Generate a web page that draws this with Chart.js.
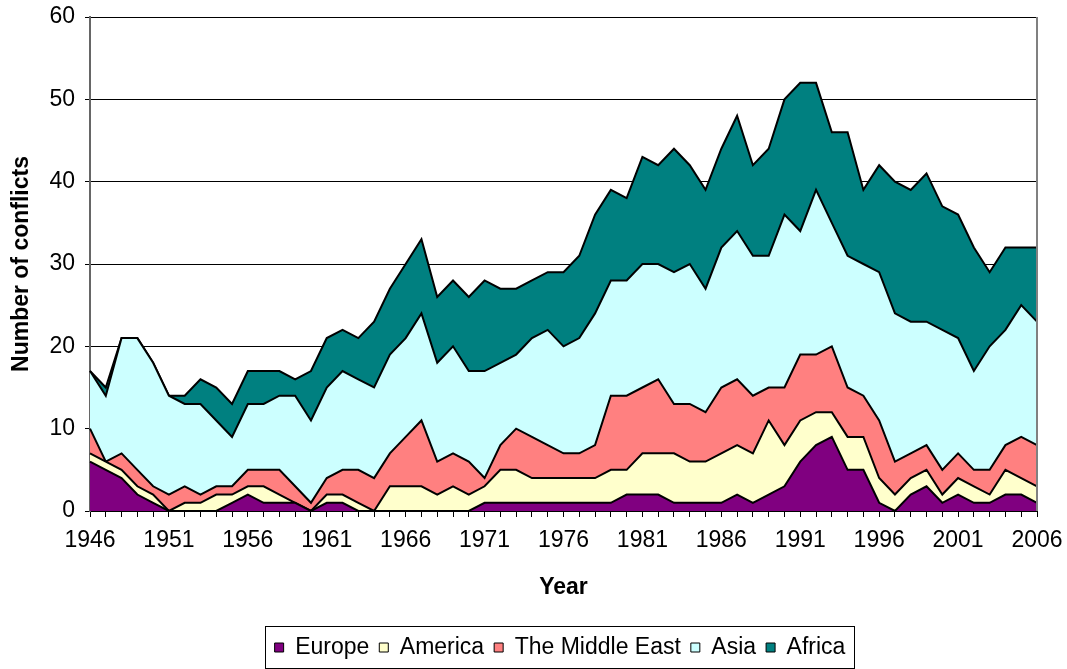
<!DOCTYPE html>
<html lang="en">
<head>
<meta charset="UTF-8">
<title>Number of conflicts by region, 1946-2006</title>
<style>
  html, body { margin: 0; padding: 0; background: #fff; }
  #wrap { width: 1067px; height: 669px; }
</style>
<script src="https://cdn.jsdelivr.net/npm/chart.js"></script>
</head>
<body>
<div id="wrap"><canvas id="conflictChart" width="1067" height="669"></canvas></div>
<script>
// categories
const years = [
  '1946','1947','1948','1949','1950','1951','1952','1953','1954','1955',
  '1956','1957','1958','1959','1960','1961','1962','1963','1964','1965',
  '1966','1967','1968','1969','1970','1971','1972','1973','1974','1975',
  '1976','1977','1978','1979','1980','1981','1982','1983','1984','1985',
  '1986','1987','1988','1989','1990','1991','1992','1993','1994','1995',
  '1996','1997','1998','1999','2000','2001','2002','2003','2004','2005',
  '2006'
];

// number of conflicts per region
const europe = [
  6, 5, 4, 2, 1, 0, 0, 0, 0, 1,
  2, 1, 1, 1, 0, 1, 1, 0, 0, 0,
  0, 0, 0, 0, 0, 1, 1, 1, 1, 1,
  1, 1, 1, 1, 2, 2, 2, 1, 1, 1,
  1, 2, 1, 2, 3, 6, 8, 9, 5, 5,
  1, 0, 2, 3, 1, 2, 1, 1, 2, 2,
  1
];
const america = [
  1, 1, 1, 1, 1, 0, 1, 1, 2, 1,
  1, 2, 1, 0, 0, 1, 1, 1, 0, 3,
  3, 3, 2, 3, 2, 2, 4, 4, 3, 3,
  3, 3, 3, 4, 3, 5, 5, 6, 5, 5,
  6, 6, 6, 9, 5, 5, 4, 3, 4, 4,
  3, 2, 2, 2, 1, 2, 2, 1, 3, 2,
  2
];
const middleEast = [
  3, 0, 2, 2, 1, 2, 2, 1, 1, 1,
  2, 2, 3, 2, 1, 2, 3, 4, 4, 4,
  6, 8, 4, 4, 4, 1, 3, 5, 5, 4,
  3, 3, 4, 9, 9, 8, 9, 6, 7, 6,
  8, 8, 7, 4, 7, 8, 7, 8, 6, 5,
  7, 4, 3, 3, 3, 3, 2, 3, 3, 5,
  5
];
const asia = [
  7, 8, 14, 16, 15, 12, 10, 11, 8, 6,
  8, 8, 9, 11, 10, 11, 12, 11, 11, 12,
  12, 13, 12, 13, 11, 13, 10, 9, 12, 14,
  13, 14, 16, 14, 14, 15, 14, 16, 17, 15,
  17, 18, 17, 16, 21, 15, 20, 15, 16, 16,
  18, 18, 16, 15, 17, 14, 12, 15, 14, 16,
  15
];
const africa = [
  0, 1, 0, 0, 0, 0, 1, 3, 4, 4,
  4, 4, 3, 2, 6, 6, 5, 5, 8, 8,
  9, 9, 8, 8, 9, 11, 9, 8, 7, 7,
  9, 10, 12, 11, 10, 13, 12, 15, 12, 12,
  12, 14, 11, 13, 14, 18, 13, 11, 15, 9,
  13, 16, 16, 18, 15, 15, 15, 9, 10, 7,
  9
];

const yTicks = [0, 10, 20, 30, 40, 50, 60];

const FONT = '"Liberation Sans", Arial, sans-serif';

function area(label, data, color, fill) {
  return {
    label: label,
    data: data,
    backgroundColor: color,
    borderColor: '#000',
    borderWidth: 2,
    pointRadius: 0,
    tension: 0,
    fill: fill
  };
}

// moves the legend a bit to the right and draws a frame round it
const legendFrame = {
  id: 'legendFrame',
  afterLayout(chart) {
    const lg = chart.legend;
    const dx = 560 - (lg.left + lg.right) / 2;
    lg.left += dx;
    lg.right += dx;
  },
  afterDraw(chart) {
    const lg = chart.legend;
    const boxes = lg.legendHitBoxes;
    if (!boxes || !boxes.length) return;
    const last = boxes[boxes.length - 1];
    const x1 = Math.round(boxes[0].left - 10) + 0.5;
    const x2 = Math.round(last.left + last.width + 9) + 0.5;
    const ctx = chart.ctx;
    ctx.save();
    ctx.strokeStyle = '#000';
    ctx.lineWidth = 1;
    ctx.strokeRect(x1, Math.round(lg.top) + 0.5, x2 - x1, Math.round(lg.bottom - lg.top) - 1);
    ctx.restore();
  }
};

// right edge of the plot area
const plotEdge = {
  id: 'plotEdge',
  afterDatasetsDraw(chart) {
    const a = chart.chartArea;
    const ctx = chart.ctx;
    ctx.save();
    ctx.strokeStyle = '#808080';
    ctx.lineWidth = 2;
    ctx.beginPath();
    ctx.moveTo(a.right, a.top);
    ctx.lineTo(a.right, a.bottom);
    ctx.stroke();
    ctx.restore();
  }
};

const ctx = document.getElementById('conflictChart').getContext('2d');

new Chart(ctx, {
  type: 'line',
  data: {
    labels: years,
    datasets: [
      area('Europe', europe, '#800080', 'origin'),
      area('America', america, '#FFFFCC', '-1'),
      area('The Middle East', middleEast, '#FF8080', '-1'),
      area('Asia', asia, '#CCFFFF', '-1'),
      area('Africa', africa, '#008080', '-1')
    ]
  },
  options: {
    responsive: false,
    animation: false,
    devicePixelRatio: 1,
    layout: { padding: { top: 17, right: 30, left: 0, bottom: 0 } },
    plugins: {
      tooltip: { enabled: false },
      legend: {
        position: 'bottom',
        labels: {
          color: '#000',
          font: { family: FONT, size: 23 },
          boxWidth: 9,
          boxHeight: 9,
          padding: 10,
          generateLabels(chart) {
            const items = Chart.defaults.plugins.legend.labels.generateLabels(chart);
            items.forEach(it => { it.lineWidth = 1; it.strokeStyle = '#000'; });
            return items;
          }
        }
      }
    },
    scales: {
      x: {
        offset: false,
        grid: {
          drawOnChartArea: false,
          drawTicks: true,
          tickLength: 6,
          color: '#000'
        },
        border: { color: '#000', width: 1 },
        ticks: {
          autoSkip: false,
          maxRotation: 0,
          minRotation: 0,
          padding: 10,
          color: '#000',
          font: { family: FONT, size: 23 },
          callback: function (v, i) { return i % 5 === 0 ? years[i] : ''; }
        },
        title: {
          display: true,
          text: 'Year',
          color: '#000',
          font: { family: FONT, size: 23, weight: 'bold' },
          padding: { top: 0, bottom: 25 }
        },
        afterFit(scale) {
          scale.height = 115;
          scale.paddingLeft = 0;
          scale.paddingRight = 0;
        }
      },
      y: {
        stacked: true,
        min: 0,
        max: 60,
        afterBuildTicks(scale) { scale.ticks = yTicks.map(v => ({ value: v })); },
        grid: {
          color: '#000',
          lineWidth: 1,
          tickLength: 5
        },
        border: { color: '#666', width: 2 },
        ticks: {
          padding: 10,
          color: '#000',
          font: { family: FONT, size: 23 }
        },
        title: {
          display: true,
          text: 'Number of conflicts',
          color: '#000',
          font: { family: FONT, size: 23, weight: 'bold' },
          padding: { top: 8, bottom: 0 }
        },
        afterFit(scale) {
          scale.width = 90;
          scale.paddingTop = 0;
          scale.paddingBottom = 0;
        }
      }
    }
  },
  plugins: [legendFrame, plotEdge]
});
</script>
</body>
</html>
